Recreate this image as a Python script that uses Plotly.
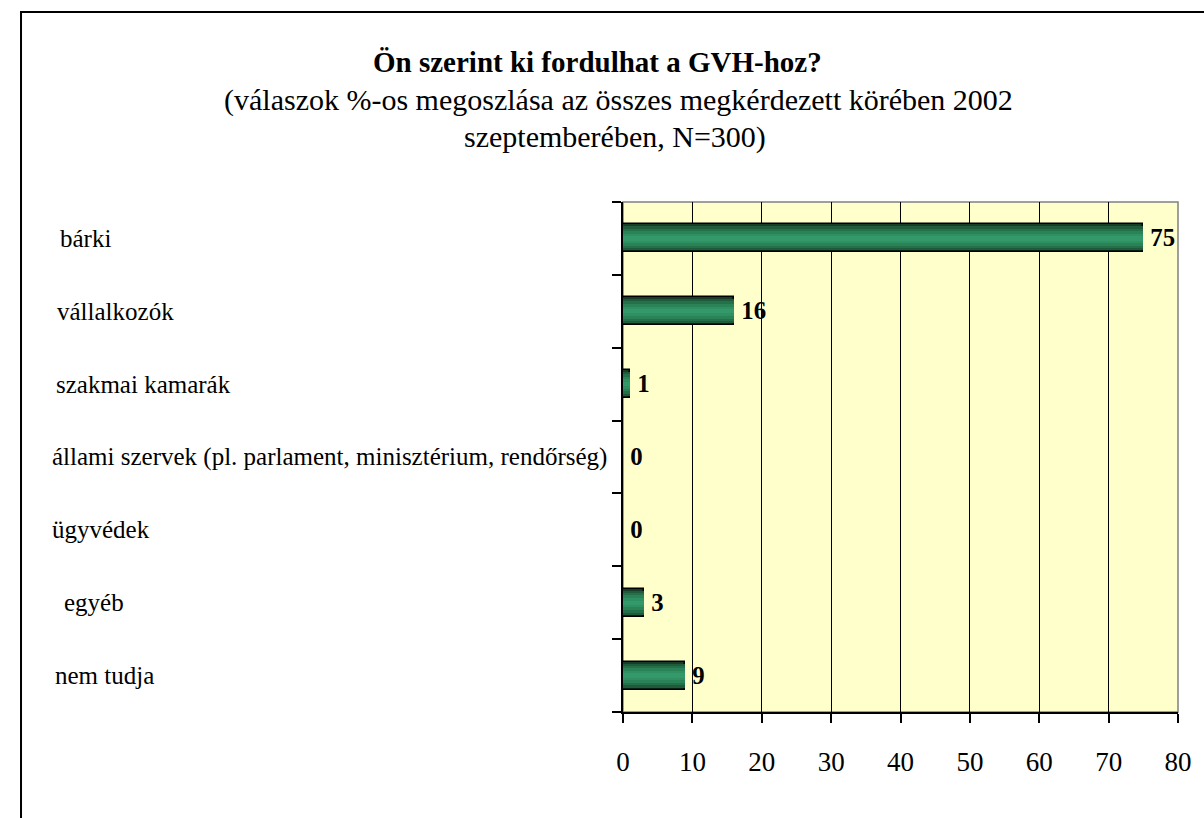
import plotly.graph_objects as go

categories = ["bárki", "vállalkozók", "szakmai kamarák",
              "állami szervek (pl. parlament, minisztérium, rendőrség)",
              "ügyvédek", "egyéb", "nem tudja"]
values = [75, 16, 1, 0, 0, 3, 9]
x_ticks = [0, 10, 20, 30, 40, 50, 60, 70, 80]

title_main = "Ön szerint ki fordulhat a GVH-hoz?"
subtitle_1 = "(válaszok %-os megoszlása az összes megkérdezett körében 2002"
subtitle_2 = "szeptemberében, N=300)"

FONT = "Liberation Serif"

# layout geometry (px)
L, R, T, B = 623, 1190, 202, 712
W, H = 1204, 818
pw, ph = R - L, B - T
label_left_px = [46, 43, 42, 38, 38, 50, 41]


def px_x(x):
    return (x - L) / pw


def px_y(y):
    return (B - y) / ph


ypos = list(range(len(categories)))

fig = go.Figure()

# gradient bar layers: (width, color)
layers = [(0.385, "#173d28"), (0.33, "#1f5a3b"), (0.27, "#24704a"),
          (0.20, "#2a8257"), (0.13, "#2f9062"), (0.06, "#33996a")]
for i, (w, c) in enumerate(layers):
    fig.add_trace(go.Bar(
        x=values, y=ypos, orientation="h", width=w,
        marker=dict(color=c, line=dict(color="#000000", width=1.5 if i == 0 else 0)),
        texttemplate="\u2009%{x}" if i == 0 else None,
        textposition="outside" if i == 0 else "none",
        textfont=dict(family=FONT, size=31, color="#000000", weight="bold"),
        cliponaxis=False, hoverinfo="skip", showlegend=False,
    ))

annotations = []
for yi, cat, lx in zip(ypos, categories, label_left_px):
    annotations.append(dict(
        x=px_x(lx), xref="paper", y=yi, yref="y", text=cat, showarrow=False,
        xanchor="left", yanchor="middle",
        font=dict(family=FONT, size=25, color="#000000")))

annotations.append(dict(x=px_x(597), xref="paper", y=px_y(62), yref="paper",
                        text="<b>" + title_main + "</b>", showarrow=False,
                        xanchor="center", yanchor="middle",
                        font=dict(family=FONT, size=29, color="#000000")))
annotations.append(dict(x=px_x(618), xref="paper", y=px_y(100), yref="paper",
                        text=subtitle_1, showarrow=False,
                        xanchor="center", yanchor="middle",
                        font=dict(family=FONT, size=30, color="#000000")))
annotations.append(dict(x=px_x(615), xref="paper", y=px_y(137), yref="paper",
                        text=subtitle_2, showarrow=False,
                        xanchor="center", yanchor="middle",
                        font=dict(family=FONT, size=30, color="#000000")))

shapes = [
    dict(type="rect", xref="paper", yref="paper", x0=0, x1=1, y0=0, y1=1,
         line=dict(color="#808080", width=1.5), layer="below"),
    dict(type="rect", xref="paper", yref="paper",
         x0=px_x(8), x1=px_x(1230), y0=px_y(845), y1=px_y(12),
         line=dict(color="#000000", width=2), layer="below"),
]

fig.update_layout(
    width=W, height=H,
    margin=dict(l=L, r=W - R, t=T, b=H - B, pad=0),
    paper_bgcolor="#ffffff", plot_bgcolor="#ffffcc",
    barmode="overlay", bargap=0,
    annotations=annotations, shapes=shapes,
    font=dict(family=FONT, color="#000000"),
    xaxis=dict(range=[0, 80], tickvals=x_ticks, ticktext=[str(t) for t in x_ticks],
               showgrid=True, gridcolor="#000000", gridwidth=1,
               showline=True, linecolor="#000000", linewidth=1.5,
               ticks="outside", ticklen=9, tickcolor="#000000", tickwidth=1.5,
               ticklabelstandoff=16, zeroline=False,
               tickfont=dict(family=FONT, size=27, color="#000000")),
    yaxis=dict(range=[len(categories) - 0.5, -0.5],
               tickvals=[i - 0.5 for i in range(len(categories) + 1)],
               ticktext=["" for _ in range(len(categories) + 1)],
               showgrid=False, zeroline=False,
               showline=True, linecolor="#000000", linewidth=1.5,
               ticks="outside", ticklen=9, tickcolor="#000000", tickwidth=1.5),
)

fig.write_html("out.html", config={"displayModeBar": False},
               post_script="document.body.style.margin='0';document.body.style.overflow='hidden';")
